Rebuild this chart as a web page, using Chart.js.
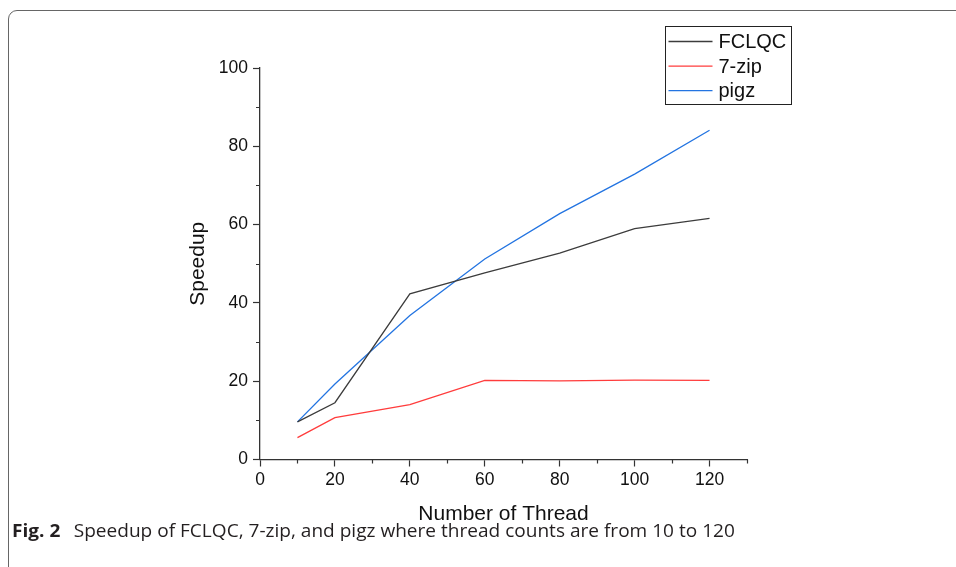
<!DOCTYPE html>
<html>
<head>
<meta charset="utf-8">
<script src="https://cdn.jsdelivr.net/npm/chart.js@4.4.1/dist/chart.umd.min.js"></script>
<style>
  html, body { margin: 0; padding: 0; background: #fff; }
  body { width: 956px; height: 567px; position: relative; overflow: hidden; }
  #frame { position: absolute; left: 8px; top: 10px; width: 990px; height: 620px; border: 1px solid #666; border-radius: 9px; box-sizing: border-box; }
  #wrap { position: absolute; left: 0; top: 0; width: 956px; height: 567px; }
  #caption { position: absolute; left: 12px; top: 518px; font-family: "Open Sans", sans-serif; font-size: 18px; color: #231f20; white-space: nowrap; transform-origin: 0 0; }
  #caption b { font-weight: 700; margin-right: 8px; }
</style>
</head>
<body>
<div id="frame"></div>
<div id="wrap"><canvas id="chart" width="956" height="567"></canvas></div>
<div id="caption"><b>Fig. 2</b> Speedup of FCLQC, 7-zip, and pigz where thread counts are from 10 to 120</div>
<script>
const threads = [10, 20, 40, 60, 80, 100, 120]
const fclqc = [9.6, 14.5, 42.3, 47.7, 52.7, 59.0, 61.6]
const sevenZip = [5.6, 10.7, 14.0, 20.2, 20.1, 20.3, 20.2]
const pigz = [9.6, 19.3, 36.8, 51.2, 62.8, 72.9, 84.1]
const seriesNames = ["FCLQC", "7-zip", "pigz"]
const seriesColors = ["#3c3c3c", "#ff3c3c", "#2374e1"]
const xMax = 130
const yMax = 100
const majorStep = 20
const minorStep = 10

const FONT = "'Liberation Sans', Arial, sans-serif"

function toPoints(values) {
  return threads.map((t, i) => ({x: t, y: values[i]}))
}

// short minor ticks, major ones come from the grid
const minorTicks = {
  id: "minorTicks",
  afterDraw(chart) {
    const ctx = chart.ctx
    const {x, y} = chart.scales
    ctx.save()
    ctx.strokeStyle = "#333"
    ctx.lineWidth = 1.2
    ctx.beginPath()
    x.ticks.forEach(t => {
      if (t.value % majorStep !== 0) {
        const px = Math.round(x.getPixelForValue(t.value)) + 0.5
        ctx.moveTo(px, x.top)
        ctx.lineTo(px, x.top + 4)
      }
    })
    y.ticks.forEach(t => {
      if (t.value % majorStep !== 0) {
        const py = Math.round(y.getPixelForValue(t.value)) + 0.5
        ctx.moveTo(y.right - 4, py)
        ctx.lineTo(y.right, py)
      }
    })
    ctx.stroke()
    ctx.restore()
  }
}

const boxLegend = {
  id: "boxLegend",
  afterDraw(chart) {
    const ctx = chart.ctx
    const left = 665.5, top = 26.5, w = 126, h = 78
    ctx.save()
    ctx.strokeStyle = "#222"
    ctx.lineWidth = 1
    ctx.strokeRect(left, top, w, h)
    ctx.font = "20px " + FONT
    ctx.textBaseline = "middle"
    ctx.fillStyle = "#111"
    chart.data.datasets.forEach((ds, i) => {
      const rowY = top + 15 + i * 24.6
      ctx.strokeStyle = ds.borderColor
      ctx.lineWidth = 1.3
      ctx.beginPath()
      ctx.moveTo(left + 3, rowY)
      ctx.lineTo(left + 47, rowY)
      ctx.stroke()
      ctx.fillText(ds.label, left + 53, rowY + 1)
    })
    ctx.restore()
  }
}

const chart = new Chart("chart", {
  type: "line",
  data: {
    datasets: [fclqc, sevenZip, pigz].map((vals, i) => ({
      label: seriesNames[i],
      data: toPoints(vals),
      borderColor: seriesColors[i],
      backgroundColor: seriesColors[i],
      borderWidth: 1.3,
      pointRadius: 0,
      tension: 0
    }))
  },
  options: {
    responsive: false,
    animation: false,
    layout: {
      padding: {left: 181.4, top: 68, right: 209, bottom: 36.4}
    },
    plugins: {
      legend: {display: false},
      tooltip: {enabled: false}
    },
    scales: {
      x: {
        type: "linear",
        min: 0,
        max: xMax,
        afterFit(scale) { scale.height = 71.1 },
        border: {display: true, color: "#333", width: 1.3},
        grid: {
          drawOnChartArea: false,
          drawTicks: true,
          tickLength: 7,
          tickWidth: 1.2,
          tickColor: c => c.tick && c.tick.value % majorStep === 0 ? "#333" : "rgba(0,0,0,0)"
        },
        ticks: {
          stepSize: minorStep,
          autoSkip: false,
          maxRotation: 0,
          padding: 3,
          color: "#111",
          font: {family: FONT, size: 17.5},
          callback: v => v % majorStep === 0 ? v : ""
        },
        title: {
          display: true,
          text: "Number of Thread",
          color: "#111",
          font: {family: FONT, size: 21}
        }
      },
      y: {
        min: 0,
        max: yMax,
        afterFit(scale) { scale.width = 78.6 },
        border: {display: true, color: "#333", width: 1.3},
        grid: {
          drawOnChartArea: false,
          drawTicks: true,
          tickLength: 7,
          tickWidth: 1.2,
          tickColor: c => c.tick && c.tick.value % majorStep === 0 ? "#333" : "rgba(0,0,0,0)"
        },
        ticks: {
          stepSize: minorStep,
          autoSkip: false,
          padding: 5,
          color: "#111",
          font: {family: FONT, size: 17.5},
          callback: v => v % majorStep === 0 ? v : ""
        },
        title: {
          display: true,
          text: "Speedup",
          color: "#111",
          font: {family: FONT, size: 21}
        }
      }
    }
  },
  plugins: [minorTicks, boxLegend]
})

// squeeze the caption to the width it has in the figure
const cap = document.getElementById("caption")
cap.style.transform = "scaleX(" + (723 / cap.offsetWidth) + ")"
</script>
</body>
</html>
